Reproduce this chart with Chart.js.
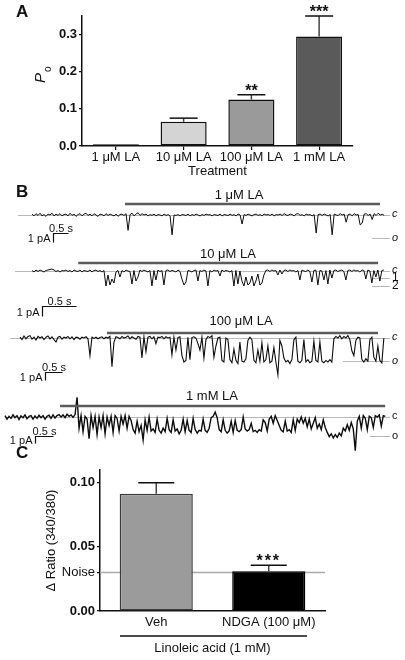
<!DOCTYPE html>
<html>
<head>
<meta charset="utf-8">
<script src="https://cdn.jsdelivr.net/npm/chart.js@4.4.1/dist/chart.umd.min.js"></script>
<style>
  html, body { margin: 0; padding: 0; background: #fff; }
  #wrap { position: relative; width: 405px; height: 660px; overflow: hidden; }
  canvas { position: absolute; left: 0; }
</style>
</head>
<body>
<div id="wrap">
  <canvas id="chartA" width="405" height="180" style="top:0px"></canvas>
  <canvas id="tr1" width="405" height="70" style="top:180px"></canvas>
  <canvas id="tr2" width="405" height="80" style="top:240px"></canvas>
  <canvas id="tr3" width="405" height="80" style="top:310px"></canvas>
  <canvas id="tr4" width="405" height="70" style="top:385px"></canvas>
  <canvas id="chartC" width="405" height="220" style="top:440px"></canvas>
</div>
<script>
// ---- Panel A: open probability ----
const aLabels = ['1 μM LA', '10 μM LA', '100 μM LA', '1 mM LA'];
const aMeans = [0.005, 0.065, 0.125, 0.295];
const aSem = [0, 0.010, 0.013, 0.055];
const aStars = ['', '', '**', '***'];
const aTicks = [0, 0.1, 0.2, 0.3];

// ---- Panel B: single-channel traces, pA, one sample every 2 px of the figure ----
const traceNames = ['1 μM LA', '10 μM LA', '100 μM LA', '1 mM LA'];
const traceDt = [0.0667, 0.0294, 0.0588, 0.0556];   // s per sample
const laStart = [3.1, 0.68, 2.56, 1.53];            // s, start of LA application
const laEnd = [11.6, 5.09, 10.53, 10.56];           // s, end of bar

const trace1 = [
  0.1,-0.1,0.15,-0.05,0.2,-0.1,0.05,-0.15,0.1,0,0.2,-0.1,0.1,-0.05,0.15,-0.1,0.05,0.1,-0.1,0.2,
  -0.05,0.1,-0.15,0.05,0.15,-0.1,0.1,0.2,-0.05,0.1,-0.1,0.15,0,-0.15,0.1,0.05,-0.1,0.15,-0.05,0.1,
  0,-0.1,0.1,-0.15,0.05,0.1,-0.05,0.15,-1.7,0.05,0.2,-0.1,0.1,0.25,-0.05,0.15,0,0.1,-0.1,0.05,
  -0.05,0.1,-0.1,0.05,0,-0.1,0.1,-0.05,0.05,-0.1,-2.2,0,-0.05,0.05,-0.1,0.05,0,-0.05,0.1,-0.1,
  0.05,-0.05,0.1,0,-0.1,0.05,-0.05,0.1,0,0.05,-0.1,0.05,0,-0.05,0.1,-0.1,0.05,0,-0.05,0.1,
  -0.05,0.05,-0.1,0.1,0,-1.0,0.05,-0.05,0.1,0,-0.1,0.05,0.1,-0.05,0.05,-0.1,0.1,0,0.05,-0.05,
  0.1,-0.1,0.05,0,0.1,-0.05,0.15,0,-0.05,0.1,0.05,-0.1,0.1,0.15,-0.05,0.05,-0.1,0.1,0,0.05,
  -0.1,0.05,-2.0,0.05,0.1,-0.05,0.1,0,-0.1,0.05,-2.2,0.1,0,-0.05,0.15,0,0.1,-0.8,0.05,0.1,
  -0.1,0.15,0,0.05,-1.1,-0.9,0.1,0.15,-0.05,0.1,-0.5,0.15,-0.05,0.2,0,0.1,-0.05
];
const trace2 = [
  0.05,-0.1,0.1,-0.05,0.1,0,-0.1,0.05,0.1,0.15,0.2,0.1,-0.05,0.05,-0.1,0.05,0,0.1,-0.05,0.05,
  -0.1,0.1,0,-0.05,0.1,-0.1,0.05,0,-0.05,0.1,-0.1,0.05,0.1,-0.05,0.05,-0.1,0.05,-1.5,-0.4,-1.4,
  -0.8,-1.2,-0.1,0.05,-0.6,0.05,-0.1,0.1,0,-0.05,-1.3,0.05,-1.0,-0.6,0.1,-0.05,0.1,0,-0.1,0.05,
  -1.5,0.05,-0.9,0.1,-0.05,0.05,-1.4,0.05,0.1,-0.05,0.05,0,-0.1,0.1,-0.05,-0.8,-1.4,-1.1,0.05,0,
  -0.1,0.05,0.1,-1.0,0.05,-0.05,0.1,0,-1.5,0.05,-0.1,0.1,0,0.05,-0.5,0.1,-0.05,0.05,0,-0.1,
  0.05,-1.5,0.05,-1.3,0,-1.0,-1.5,-0.6,-1.4,-1.2,-0.5,-1.5,-1.0,-0.3,-1.4,-1.2,-0.4,0.05,0.1,-0.05,
  0.1,0,0.05,-0.4,0.1,-0.3,0.05,0.1,-0.05,0.1,0,0.05,-0.1,0.05,-0.9,0.1,0,-0.05,0.1,-0.05,
  -1.1,0.05,0.1,-1.4,0.05,0,-0.9,0.05,-1.3,0.1,-0.7,0.05,0.1,-0.05,0.05,0.1,-0.05,-0.9,0.05,0.1,
  -0.05,0.1,0,0.05,-0.1,0.1,0.05,-0.8,0.1,0,-1.2,0.05,-0.6,0.1,-1.0,0.05,0.1
];
const trace3 = [
  0.1,-0.2,0.25,-0.1,0.2,0.3,-0.15,0.1,-0.25,0.2,0,0.15,-0.2,0.1,0.25,-0.1,0.15,-0.2,-0.5,0.1,
  0.2,-0.15,0.1,0,0.2,-0.1,0.15,-0.2,0.1,0.05,-0.15,0.1,0,0.15,-0.1,-2.2,0.1,-0.05,0.1,-0.1,
  0.05,0.15,-0.1,0.1,0,0.2,-3.6,-0.5,0.15,0.05,-0.1,0.2,0,0.1,0.25,-0.1,0.15,0,-0.15,0.2,
  0.1,-2.5,0.15,-1.7,0.1,0.2,-0.1,0.15,-0.7,0.1,0.05,0.2,-0.1,0.15,0,0.1,-2.1,0.1,-1.5,0.05,
  0.15,-2.2,-3.0,-2.8,0.1,-2.7,0.05,0.15,
  0,-0.7,-1.5,0.1,-2.5,-0.2,0.2,0.05,0.3,-2.4,-1.0,0,
  0.1,-2.8,-3.0,0,-0.2,-2.7,-3.1,-1.4,-2.8,-3.2,-0.5,-2.9,-3.0,-2.6,-0.3,0.1,-0.2,-2.8,-3.1,-1.5,
  -2.9,-0.6,-3.0,-2.7,-1.0,-3.1,-2.9,-1.2,-3.0,-4.6,-0.3,-1.0,-2.5,-3.0,-2.8,-3.2,-2.7,-0.2,0.1,-2.9,
  -3.1,-2.8,-0.2,-3.0,-2.7,-3.1,-2.9,-0.4,-2.8,-3.0,-0.5,-2.9,-3.1,-2.8,-3.0,-2.7,-3.0,-0.1,0.2,0,
  0.3,-0.1,0.2,0,0.3,-0.2,-1.6,-2.2,-0.3,0.1,0,-2.7,-3.0,-2.6,-2.9,-0.2,0.1,-2.4,-2.9,-1.0,
  -2.8,-3.1,0
];
const trace4 = [
  0.2,-0.3,0.1,-0.2,0.3,-0.1,0.2,-0.35,0.15,-0.1,0.3,-0.25,0.1,0.2,-0.3,0.15,-0.2,0.25,-0.1,0.2,
  -0.3,0.1,0.25,-0.2,0.3,-0.15,0.2,0.35,0,0.3,-0.1,0.4,0.1,0.3,-0.05,0.35,
  2.8,-1.6,0.2,-2.1,0.1,-0.3,-3.1,0.2,-1.5,0.1,-2.5,0,-1.5,0.2,-2.4,0,-1.2,0.1,-2.2,0.2,
  -0.2,-2.0,0.1,-1.0,0.2,-1.6,0.1,-0.5,
  -1.8,-2.3,-0.6,-2.1,-1.2,-3.3,-0.4,-1.9,0,-2.0,-1.7,-2.2,-0.3,-1.9,-2.3,-1.6,-2.1,-0.2,-1.8,-2.2,
  -0.4,-2.0,-1.7,-2.4,-1.9,-0.3,-2.1,-0.5,-1.9,-2.2,-0.2,-1.8,-2.3,-1.9,
  -2.0,-0.3,-1.9,-2.2,-1.6,-0.1,0.1,0.7,-0.1,-1.8,-2.1,-0.4,-1.9,-2.3,-2.0,-0.6,-2.2,-0.5,-1.9,-2.1,
  -1.8,0,-1.7,
  -2.0,-1.8,-0.9,-2.1,-1.9,-2.2,-1.8,-2.0,-0.4,-0.8,-2.0,
  -0.3,0.1,-0.9,0.2,-0.5,-1.2,
  -1.9,-2.1,-0.6,-2.0,-1.8,-2.2,-0.4,-1.9,
  -0.3,-0.8,0,-0.9,-0.2,
  -1.4,-0.3,-1.7,-0.9,-0.1,-1.6,-1.0,-1.8,-0.4,-1.5,
  -2.2,-2.8,-2.4,-3.0,-2.5,-2.9,-2.3,-2.7,
  -1.6,-2.0,-1.1,-1.9,-0.8,-1.7,-4.8,-0.6,
  0.1,-1.6,0.2,-0.2,-1.8,0.1,-0.1,-1.5,0.2,0,0.3,-1.3,0.2,0.1
];
const traces = [trace1, trace2, trace3, trace4];

// ---- Panel C: calcium response ----
const cLabels = ['Veh', 'NDGA (100 μM)'];
const cMeans = [0.0915, 0.031];
const cSem = [0.0085, 0.0047];
const cStars = ['', '***'];
const cNoise = 0.03;
const cTicks = [0, 0.03, 0.05, 0.10];

const FONT = "'Liberation Sans', Arial, Helvetica, sans-serif";
const INK = '#111';

function line(ctx, x1, y1, x2, y2) {
  ctx.beginPath(); ctx.moveTo(x1, y1); ctx.lineTo(x2, y2); ctx.stroke();
}

// error bars (upper half only) + significance stars
function errorBars(sem, stars, capW, spacing) {
  return {
    id: 'errorBars',
    afterDatasetsDraw(chart) {
      const { ctx } = chart, y = chart.scales.y;
      const vals = chart.data.datasets[0].data;
      ctx.save();
      chart.getDatasetMeta(0).data.forEach((bar, i) => {
        if (!sem[i]) return;
        const yb = y.getPixelForValue(vals[i]);
        const yt = y.getPixelForValue(vals[i] + sem[i]);
        ctx.strokeStyle = '#444'; ctx.lineWidth = 1.5;
        line(ctx, bar.x, yb, bar.x, yt);
        ctx.strokeStyle = INK;
        line(ctx, bar.x - capW / 2, yt, bar.x + capW / 2, yt);
        if (stars[i]) {
          ctx.fillStyle = INK;
          ctx.font = 'bold 16px ' + FONT;
          ctx.letterSpacing = spacing;
          ctx.textAlign = 'center';
          ctx.textBaseline = 'alphabetic';
          ctx.fillText(stars[i], bar.x, yt + 1);
        }
      });
      ctx.restore();
    }
  };
}

// ---------- A ----------
new Chart(document.getElementById('chartA'), {
  type: 'bar',
  data: {
    labels: aLabels,
    datasets: [{
      data: aMeans,
      backgroundColor: ['#222222', '#d4d4d4', '#9a9a9a', '#5a5a5a'],
      borderColor: INK, borderWidth: 1.5, borderSkipped: false,
      barPercentage: 0.68, categoryPercentage: 1
    }]
  },
  options: {
    responsive: false, animation: false, devicePixelRatio: 1,
    layout: { padding: { top: 16, right: 52, left: 0, bottom: 0 } },
    plugins: { legend: { display: false }, tooltip: { enabled: false } },
    scales: {
      x: {
        grid: { drawOnChartArea: false, offset: false, tickLength: 4, color: INK, lineWidth: 1.2 },
        border: { color: INK, width: 1.5 },
        ticks: { font: { family: FONT, size: 13 }, color: INK, padding: 0, maxRotation: 0, autoSkip: false },
        title: { display: true, text: 'Treatment', font: { family: FONT, size: 13 }, color: INK, padding: { top: 0, bottom: 1 } },
        afterFit(s) { s.height = 34; }
      },
      y: {
        min: 0, max: 0.35,
        afterBuildTicks(s) { s.ticks = aTicks.map(v => ({ value: v })); },
        grid: { drawOnChartArea: false, tickLength: 3, color: INK, lineWidth: 1.2 },
        border: { color: INK, width: 1.5 },
        ticks: { font: { family: FONT, size: 13, weight: 'bold' }, color: INK, padding: 2, callback: v => v.toFixed(1) },
        afterFit(s) { s.width = 82; }
      }
    }
  },
  plugins: [errorBars(aSem, aStars, 28, '0px'), {
    id: 'labelsA',
    afterDraw(chart) {
      const { ctx } = chart;
      ctx.save();
      ctx.fillStyle = INK;
      ctx.font = 'bold 17px ' + FONT;
      ctx.textBaseline = 'alphabetic';
      ctx.fillText('A', 16, 17);
      ctx.translate(45, 83);
      ctx.rotate(-Math.PI / 2);
      ctx.font = 'italic 15px ' + FONT;
      ctx.fillText('P', 0, 0);
      ctx.font = '10px ' + FONT;
      ctx.fillText('o', 11, 6);
      ctx.restore();
    }
  }]
});

// ---------- B ----------
const TR = [
  { id: 'tr1', top: 180, x0: 32, base: 215, pxS: 30, pxA: 9, barY: 204, labX: 239, labY: 195, cFrom: 18, lw: 1,
    italic: true, sb: [53, 233], levels: [{ v: -2.56, t: 'o', from: 372 }], letter: 'B' },
  { id: 'tr2', top: 240, x0: 32, base: 271, pxS: 68, pxA: 10, barY: 263, labX: 228, labY: 254, cFrom: 15, lw: 1,
    italic: true, sb: [42, 306], levels: [{ v: -0.7, t: '1', from: 372, plain: true }, { v: -1.5, t: '2', from: 372, plain: true }] },
  { id: 'tr3', top: 310, x0: 20, base: 338, pxS: 34, pxA: 8, barY: 333, labX: 241, labY: 321, cFrom: 10, lw: 1.1,
    italic: true, sb: [45, 372], levels: [{ v: -2.9, t: 'o', from: 343 }] },
  { id: 'tr4', top: 385, x0: 5, base: 417, pxS: 36, pxA: 7, barY: 406, labX: 212, labY: 396, cFrom: 5, lw: 1.4,
    italic: false, sb: [35, 436], levels: [{ v: -2.7, t: 'o', from: 370 }] }
];

function traceDecor(L, k) {
  return {
    id: 'decor' + k,
    beforeDatasetsDraw(chart) {
      const { ctx } = chart, y = chart.scales.y;
      ctx.save();
      ctx.strokeStyle = '#b8b8b8'; ctx.lineWidth = 1;
      const yc = Math.round(y.getPixelForValue(0)) + 0.5;
      line(ctx, L.cFrom, yc, 390, yc);
      L.levels.forEach(lv => {
        const yy = Math.round(y.getPixelForValue(lv.v)) + 0.5;
        line(ctx, lv.from, yy, 390, yy);
      });
      ctx.restore();
    },
    afterDraw(chart) {
      const { ctx } = chart, x = chart.scales.x, y = chart.scales.y;
      ctx.save();
      // LA application bar + name
      ctx.strokeStyle = '#5c5c5c'; ctx.lineWidth = 2.5;
      line(ctx, x.getPixelForValue(laStart[k]), L.barY - L.top, x.getPixelForValue(laEnd[k]), L.barY - L.top);
      ctx.fillStyle = INK;
      ctx.font = '13px ' + FONT;
      ctx.textAlign = 'center'; ctx.textBaseline = 'middle';
      ctx.fillText(traceNames[k], L.labX, L.labY - L.top);
      // scale bar: 0.5 s x 1 pA
      const sx = L.sb[0] + 0.5, sy = L.sb[1] - L.top + 0.5;
      const w = x.getPixelForValue(0.5) - x.getPixelForValue(0);
      const h = y.getPixelForValue(-1) - y.getPixelForValue(0);
      ctx.strokeStyle = INK; ctx.lineWidth = 1.2;
      ctx.beginPath(); ctx.moveTo(sx + w, sy); ctx.lineTo(sx, sy); ctx.lineTo(sx, sy + h); ctx.stroke();
      ctx.font = '11px ' + FONT;
      ctx.textBaseline = 'alphabetic';
      ctx.fillText('0.5 s', sx + w / 2, sy - 2);
      ctx.textAlign = 'right'; ctx.textBaseline = 'middle';
      ctx.fillText('1 pA', sx - 3, sy + h / 2 + 1);
      // state labels
      ctx.textAlign = 'left';
      ctx.font = (L.italic ? 'italic ' : '') + '11px ' + FONT;
      ctx.fillText('c', 392, y.getPixelForValue(0) - 1);
      L.levels.forEach(lv => {
        ctx.font = (L.italic && !lv.plain ? 'italic ' : '') + (lv.plain ? '12px ' : '11px ') + FONT;
        ctx.fillText(lv.t, 392, y.getPixelForValue(lv.v));
      });
      if (L.letter) {
        ctx.font = 'bold 17px ' + FONT;
        ctx.fillText(L.letter, 16, 192 - L.top);
      }
      ctx.restore();
    }
  };
}

TR.forEach((L, k) => {
  const cv = document.getElementById(L.id);
  const H = cv.height;
  const pts = traces[k].map((v, i) => ({ x: i * traceDt[k], y: v }));
  new Chart(cv, {
    type: 'line',
    data: { datasets: [{ data: pts, borderColor: '#0d0d0d', borderWidth: L.lw, pointRadius: 0, tension: 0, fill: false }] },
    options: {
      responsive: false, animation: false, devicePixelRatio: 1,
      layout: { padding: 0 },
      plugins: { legend: { display: false }, tooltip: { enabled: false } },
      scales: {
        x: { type: 'linear', display: false, min: -L.x0 / L.pxS, max: (405 - L.x0) / L.pxS },
        y: { type: 'linear', display: false, min: -(L.top + H - L.base) / L.pxA, max: (L.base - L.top) / L.pxA }
      }
    },
    plugins: [traceDecor(L, k)]
  });
});

// ---------- C ----------
new Chart(document.getElementById('chartC'), {
  type: 'bar',
  data: {
    labels: cLabels,
    datasets: [{
      data: cMeans,
      backgroundColor: ['#9b9b9b', '#000000'],
      borderColor: ['#3a3a3a', '#000000'], borderWidth: 1.5, borderSkipped: false,
      barPercentage: 0.65, categoryPercentage: 1
    }]
  },
  options: {
    responsive: false, animation: false, devicePixelRatio: 1,
    layout: { padding: { top: 30, right: 80, left: 0, bottom: 0 } },
    plugins: { legend: { display: false }, tooltip: { enabled: false } },
    scales: {
      x: {
        grid: { drawOnChartArea: false, offset: false, tickLength: 4, tickColor: 'rgba(0,0,0,0)' },
        border: { color: INK, width: 1.5 },
        ticks: { font: { family: FONT, size: 13 }, color: INK, padding: 0, maxRotation: 0, autoSkip: false },
        title: { display: true, text: 'Linoleic acid (1 mM)', font: { family: FONT, size: 13 }, color: INK, padding: { top: 0, bottom: 4 } },
        afterFit(s) { s.height = 49; }
      },
      y: {
        min: 0, max: 0.11,
        afterBuildTicks(s) { s.ticks = cTicks.map(v => ({ value: v })); },
        grid: { drawOnChartArea: false, tickLength: 3, color: INK, lineWidth: 1.2 },
        border: { color: INK, width: 1.5 },
        ticks: {
          font: c => ({ family: FONT, size: 13, weight: c.tick && c.tick.value === cNoise ? 'normal' : 'bold' }),
          color: INK, padding: 2,
          callback: v => v === cNoise ? 'Noise' : v.toFixed(2)
        },
        title: { display: true, text: 'Δ Ratio (340/380)', font: { family: FONT, size: 13 }, color: INK, padding: { top: 44, bottom: 0 } },
        afterFit(s) { s.width = 100; }
      }
    }
  },
  plugins: [{
    id: 'noiseLine',
    beforeDatasetsDraw(chart) {
      const { ctx, chartArea } = chart;
      const yn = chart.scales.y.getPixelForValue(cNoise);
      ctx.save();
      ctx.strokeStyle = '#aaaaaa'; ctx.lineWidth = 1.5;
      line(ctx, chartArea.left, yn, chartArea.right, yn);
      ctx.restore();
    },
    afterDraw(chart) {
      const { ctx, chartArea } = chart;
      ctx.save();
      ctx.strokeStyle = INK; ctx.lineWidth = 1.5;
      line(ctx, chartArea.left + 20, 196, chartArea.right - 18, 196);
      ctx.fillStyle = INK;
      ctx.font = 'bold 17px ' + FONT;
      ctx.fillText('C', 16, 18);
      ctx.restore();
    }
  }, errorBars(cSem, cStars, 36, '2px')]
});
</script>
</body>
</html>
